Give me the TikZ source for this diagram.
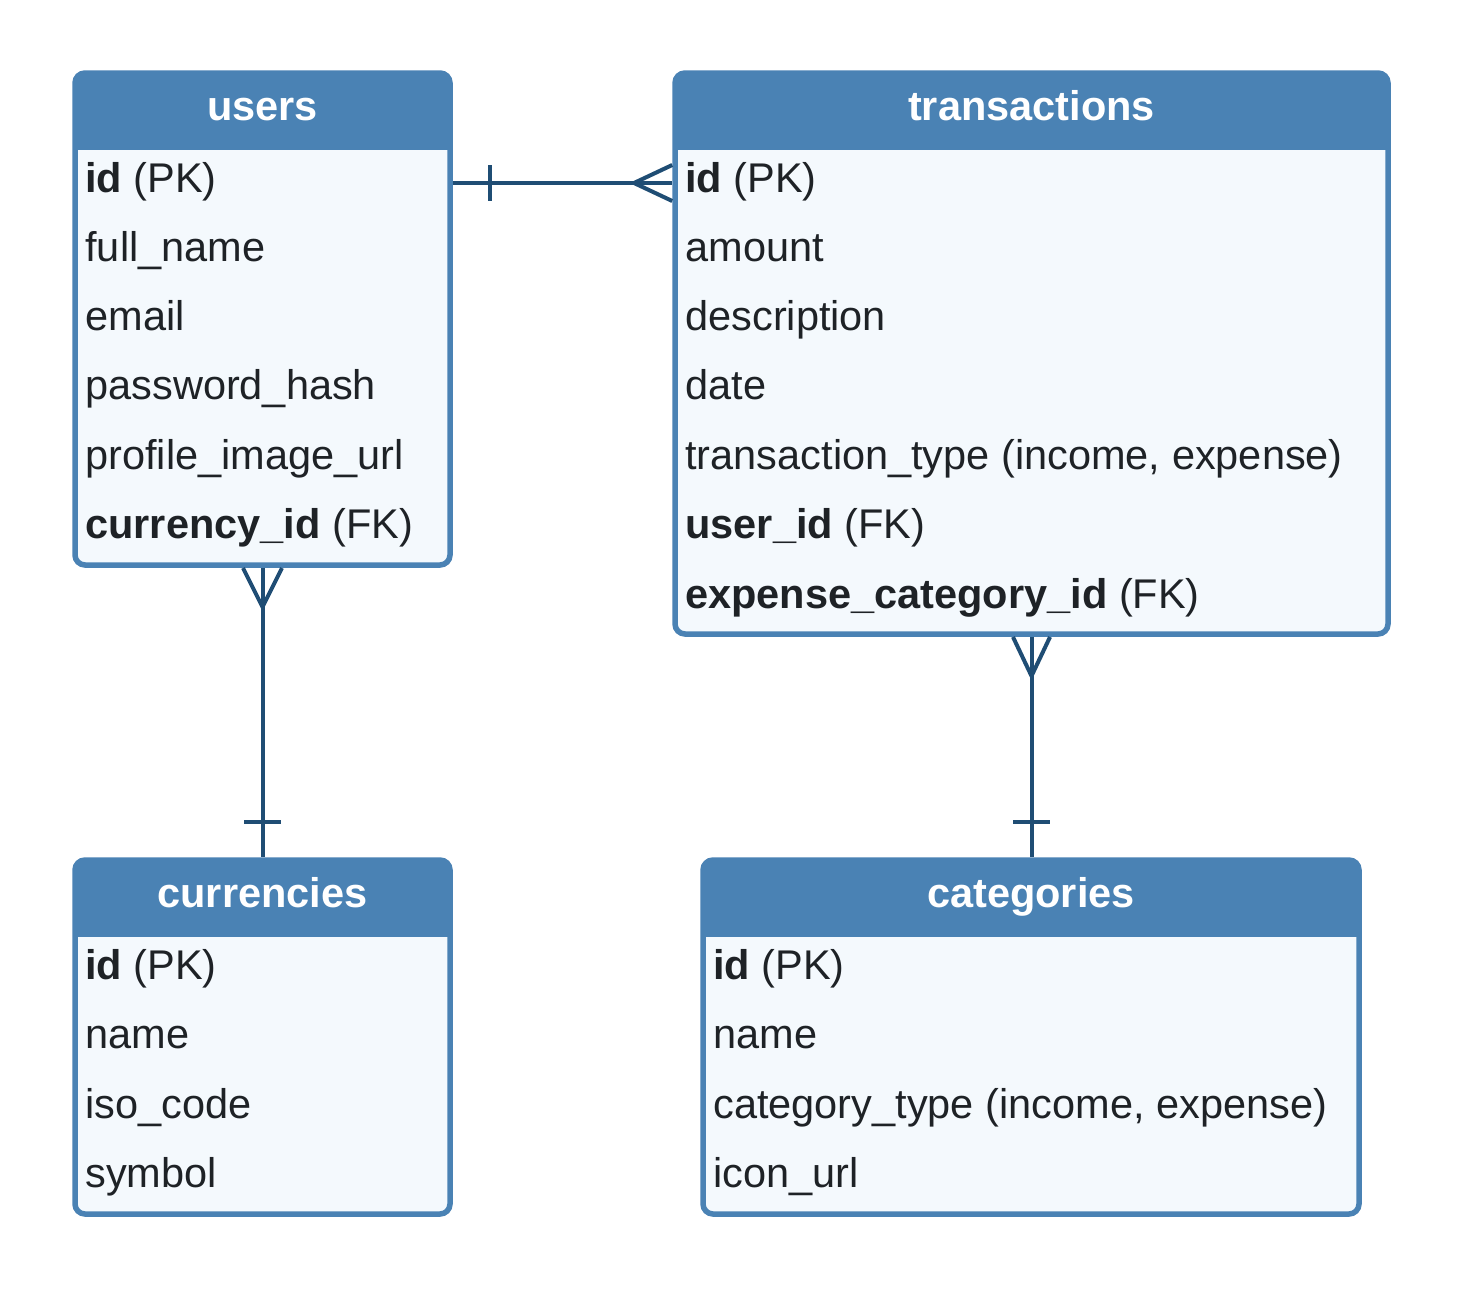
\documentclass[tikz,border=0pt]{standalone}
\usepackage{fontspec}
\setmainfont{Liberation Sans}
\usetikzlibrary{fit}
\definecolor{steel}{HTML}{4A82B4}
\definecolor{bodyc}{HTML}{F4F9FD}
\definecolor{linec}{HTML}{1F4D74}
\definecolor{txt}{HTML}{1E2226}
\newcommand{\erbox}[6]{%
  \node[tbl, fit={(#2,#3) (#4,#5)}] (#1) {};
  \begin{scope}
    \clip[rounded corners=5pt] (#2,#3) rectangle (#4,#5);
    \fill[steel] (#2,#3) rectangle (#4,#3+77);
  \end{scope}
  \node[ttl] (#1-title) at ({(#2+#4)/2},#3+47) {#6};
}
\begin{document}
\begin{tikzpicture}[x=0.5pt,y=-0.5pt,
  tbl/.style={draw=steel, line width=2.75pt, fill=bodyc, rounded corners=5pt, inner sep=0pt},
  row/.style={anchor=base west, inner sep=0pt, text=txt, font=\fontsize{20.75}{24}\selectfont},
  ttl/.style={anchor=base, inner sep=0pt, text=white, font=\bfseries\fontsize{20.75}{24}\selectfont},
  conn/.style={draw=linec, line width=2pt}]
\path[use as bounding box, fill=white] (0,0) rectangle (1463,1290);

% users
\erbox{users}{75}{73}{450}{565}{users}
\node[row] (u1) at (85,192) {\textbf{id} (PK)};
\node[row] (u2) at (85,261) {full\_name};
\node[row] (u3) at (85,330) {email};
\node[row] (u4) at (85,399) {password\_hash};
\node[row] (u5) at (85,469) {profile\_image\_url};
\node[row] (u6) at (85,538) {\textbf{currency\_id} (FK)};

% transactions
\erbox{transactions}{675}{73}{1388}{634}{transactions}
\node[row] (t1) at (685,192) {\textbf{id} (PK)};
\node[row] (t2) at (685,261) {amount};
\node[row] (t3) at (685,330) {description};
\node[row] (t4) at (685,399) {date};
\node[row] (t5) at (685,469) {transaction\_type (income, expense)};
\node[row] (t6) at (685,538) {\textbf{user\_id} (FK)};
\node[row] (t7) at (685,608) {\textbf{expense\_category\_id} (FK)};

% currencies
\erbox{currencies}{75}{860}{450}{1214}{currencies}
\node[row] (c1) at (85,979) {\textbf{id} (PK)};
\node[row] (c2) at (85,1048) {name};
\node[row] (c3) at (85,1118) {iso\_code};
\node[row] (c4) at (85,1187) {symbol};

% categories
\erbox{categories}{703}{860}{1359}{1214}{categories}
\node[row] (k1) at (713,979) {\textbf{id} (PK)};
\node[row] (k2) at (713,1048) {name};
\node[row] (k3) at (713,1118) {category\_type (income, expense)};
\node[row] (k4) at (713,1187) {icon\_url};

% users -- transactions
\draw[conn] (users.east |- 0,183) -- (transactions.west |- 0,183);
\draw[conn] (490,165) -- (490,201);
\draw[conn] (transactions.west |- 0,165) -- (634,183) -- (transactions.west |- 0,201);

% users -- currencies
\draw[conn] (users.south) -- (currencies.north);
\draw[conn] (243,568) -- (262.5,607) -- (282,568);
\draw[conn] (244,822) -- (281,822);

% transactions -- categories
\draw[conn] (transactions.south) -- (transactions.south |- categories.north);
\draw[conn] (1013,637) -- (1031.5,676) -- (1050,637);
\draw[conn] (1013,822) -- (1050,822);
\end{tikzpicture}
\end{document}
